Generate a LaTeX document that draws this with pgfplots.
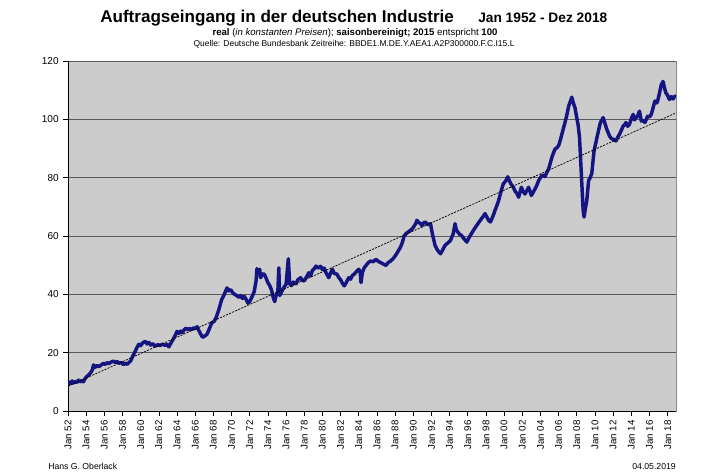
\documentclass[border=0pt]{standalone}
\usepackage{pgfplots}
\pgfplotsset{compat=1.18}
\usepackage{fontspec}
\setmainfont{Liberation Sans}
\definecolor{navyline}{RGB}{20,20,130}
\definecolor{plotbg}{RGB}{204,204,204}
\definecolor{gridc}{RGB}{90,90,90}
\begin{document}
\begin{tikzpicture}[x=0.75pt,y=0.75pt]
\useasboundingbox (0,0) rectangle (720,471);
\begin{axis}[
  at={(51pt,45pt)}, anchor=south west,
  width=456pt, height=262.5pt, scale only axis,
  xmin=1952, xmax=2018.92, ymin=0, ymax=120,
  axis x line*=bottom, axis y line*=left, axis line style={-,black,line width=0.6pt},
  axis background/.style={fill=plotbg, draw=gray!90, line width=0.6pt},
  ytick={0,20,...,120},
  xtick={1952,1954,...,2018},
  xticklabels={Jan 52,Jan 54,Jan 56,Jan 58,Jan 60,Jan 62,Jan 64,Jan 66,Jan 68,Jan 70,Jan 72,Jan 74,Jan 76,Jan 78,Jan 80,Jan 82,Jan 84,Jan 86,Jan 88,Jan 90,Jan 92,Jan 94,Jan 96,Jan 98,Jan 00,Jan 02,Jan 04,Jan 06,Jan 08,Jan 10,Jan 12,Jan 14,Jan 16,Jan 18},
  x tick label style={rotate=90, anchor=east, font=\fontsize{7.3}{8}\selectfont},
  y tick label style={font=\fontsize{7.5}{8}\selectfont},
  /pgf/number format/assume math mode=true,
  tick align=outside, major tick length=3.5pt,
  tick style={black, line width=0.5pt},
  ymajorgrids, grid style={gridc, line width=0.5pt},
  clip=true,
]
\addplot[navyline, line width=2.6pt, line join=round] coordinates {
(1952.0,9.0) (1952.15,9.9) (1952.3,9.4) (1952.45,10.3) (1952.6,9.6) (1952.8,10.1) (1953.0,9.8) (1953.15,10.6)
(1953.3,10.0) (1953.5,10.4) (1953.7,10.0) (1953.85,11.0) (1954.1,11.9) (1954.3,12.4) (1954.5,13.2) (1954.7,14.2)
(1954.8,15.8) (1955.0,15.0) (1955.2,15.6) (1955.4,15.2) (1955.7,15.9) (1955.9,16.3) (1956.1,16.0) (1956.3,16.6)
(1956.5,16.2) (1956.7,16.7) (1957.0,17.1) (1957.2,16.6) (1957.4,17.0) (1957.6,16.4) (1957.9,16.6) (1958.1,15.9)
(1958.3,16.4) (1958.5,16.0) (1958.7,16.6) (1958.9,17.2) (1959.1,18.6) (1959.4,20.5) (1959.6,21.8) (1959.8,22.9)
(1960.0,22.4) (1960.2,23.3) (1960.5,23.9) (1960.7,23.0) (1960.9,23.5) (1961.1,22.6) (1961.3,23.1) (1961.6,22.2)
(1961.9,22.8) (1962.1,22.4) (1962.4,22.9) (1962.7,22.5) (1962.9,22.9) (1963.1,22.0) (1963.3,23.1) (1963.5,24.2)
(1963.8,25.9) (1964.0,27.3) (1964.2,26.6) (1964.4,27.4) (1964.6,26.9) (1964.8,27.9) (1965.0,28.4) (1965.2,27.8)
(1965.4,28.3) (1965.6,27.9) (1965.8,28.5) (1966.0,28.2) (1966.2,28.9) (1966.4,27.6) (1966.6,26.4) (1966.8,25.3)
(1967.0,25.6) (1967.3,26.3) (1967.6,28.5) (1967.8,30.1) (1968.1,30.8) (1968.3,32.0) (1968.6,34.7) (1968.9,38.1)
(1969.2,40.0) (1969.5,42.2) (1969.7,41.2) (1969.9,41.6) (1970.2,40.3) (1970.5,39.7) (1970.8,39.0) (1971.0,39.6)
(1971.2,38.6) (1971.4,39.3) (1971.6,38.3) (1971.8,37.0) (1972.0,37.5) (1972.3,39.5) (1972.5,41.0) (1972.7,44.6)
(1972.8,48.8) (1972.95,47.5) (1973.1,48.6) (1973.2,45.7) (1973.4,47.0) (1973.6,46.9) (1973.8,45.6) (1974.0,44.0)
(1974.2,43.0) (1974.4,41.5) (1974.6,38.8) (1974.75,37.5) (1974.9,39.5) (1975.1,41.1) (1975.2,49.1) (1975.3,39.6)
(1975.5,40.8) (1975.8,42.6) (1976.0,43.4) (1976.25,52.2) (1976.4,43.6) (1976.6,43.0) (1976.8,44.2) (1977.1,43.6)
(1977.3,45.0) (1977.6,45.7) (1977.8,44.8) (1978.0,44.6) (1978.3,46.2) (1978.5,47.4) (1978.7,46.3) (1978.9,48.2)
(1979.1,48.8) (1979.3,49.7) (1979.5,49.0) (1979.8,49.6) (1980.0,48.5) (1980.2,49.0) (1980.4,47.4) (1980.7,45.7)
(1980.9,47.3) (1981.1,48.6) (1981.3,47.2) (1981.6,46.9) (1981.8,45.8) (1982.0,45.0) (1982.2,43.8) (1982.4,42.9)
(1982.6,43.9) (1982.9,45.7) (1983.1,45.2) (1983.3,46.5) (1983.5,46.9) (1983.8,48.0) (1984.0,48.6) (1984.15,47.8)
(1984.25,44.0) (1984.4,47.5) (1984.6,49.1) (1984.9,50.3) (1985.1,51.0) (1985.3,51.4) (1985.6,51.2) (1985.9,52.0)
(1986.1,51.4) (1986.4,50.9) (1986.7,50.4) (1987.0,49.9) (1987.2,50.8) (1987.5,51.4) (1987.8,52.3) (1988.0,53.1)
(1988.3,54.6) (1988.6,56.2) (1988.8,57.8) (1989.0,60.0) (1989.2,60.8) (1989.5,61.5) (1989.7,62.0) (1989.9,62.5)
(1990.1,63.4) (1990.3,64.4) (1990.4,65.4) (1990.6,64.6) (1990.8,64.3) (1990.96,63.5) (1991.1,64.4) (1991.3,64.8)
(1991.6,63.9) (1991.9,64.2) (1992.1,60.8) (1992.4,56.8) (1992.6,55.5) (1992.8,54.6) (1993.0,53.9) (1993.2,55.0)
(1993.5,56.8) (1993.8,57.6) (1994.1,58.5) (1994.4,60.8) (1994.6,64.2) (1994.75,62.0) (1994.9,61.4) (1995.1,60.6)
(1995.3,60.2) (1995.6,59.0) (1995.9,57.9) (1996.1,59.2) (1996.4,60.8) (1996.7,62.3) (1997.0,63.7) (1997.2,64.6)
(1997.5,65.9) (1997.7,66.7) (1997.9,67.7) (1998.1,66.5) (1998.3,65.3) (1998.5,64.8) (1998.8,67.0) (1999.0,68.8)
(1999.2,70.4) (1999.4,72.2) (1999.7,75.7) (1999.9,77.8) (2000.2,79.0) (2000.4,80.3) (2000.6,78.8) (2000.8,77.6)
(2001.0,76.8) (2001.2,75.4) (2001.4,74.6) (2001.6,73.3) (2001.8,75.6) (2001.9,76.7) (2002.1,75.2) (2002.3,74.4)
(2002.5,75.6) (2002.7,76.7) (2002.9,74.8) (2003.0,73.9) (2003.2,75.0) (2003.4,76.1) (2003.6,77.4) (2003.8,79.0)
(2004.0,80.0) (2004.2,80.9) (2004.5,80.4) (2004.7,81.8) (2004.9,83.0) (2005.1,85.2) (2005.3,87.4) (2005.6,89.8)
(2005.8,90.2) (2006.0,91.0) (2006.2,93.0) (2006.4,95.4) (2006.7,98.9) (2006.9,101.4) (2007.1,104.5) (2007.3,106.2)
(2007.45,107.6) (2007.6,105.8) (2007.8,104.0) (2008.0,100.5) (2008.15,98.0) (2008.3,93.8) (2008.5,81.3) (2008.7,68.8)
(2008.8,66.5) (2008.95,69.5) (2009.1,72.2) (2009.3,79.0) (2009.5,80.2) (2009.65,81.5) (2009.9,89.2) (2010.1,92.0)
(2010.3,94.9) (2010.6,98.9) (2010.9,100.6) (2011.1,98.6) (2011.3,96.6) (2011.6,94.3) (2011.8,93.4) (2012.0,93.2)
(2012.3,92.6) (2012.5,93.8) (2012.7,94.9) (2012.9,96.2) (2013.1,97.7) (2013.3,98.3) (2013.4,98.9) (2013.6,97.6)
(2013.8,98.3) (2014.0,100.2) (2014.2,101.7) (2014.35,99.8) (2014.5,100.5) (2014.7,101.2) (2014.9,102.8) (2015.1,99.4)
(2015.3,99.6) (2015.5,98.9) (2015.8,101.1) (2016.0,100.8) (2016.2,101.7) (2016.4,104.0) (2016.6,106.3) (2016.8,105.6)
(2016.9,106.3) (2017.1,109.0) (2017.3,111.9) (2017.5,113.0) (2017.65,110.8) (2017.8,109.1) (2018.0,108.2) (2018.2,106.8)
(2018.4,107.8) (2018.6,107.0) (2018.8,108.0) (2018.92,107.8)
};
\addplot[black, dash pattern=on 1.6pt off 0.9pt, line width=0.55pt] coordinates {(1952,8.5) (2018.92,102.2)};
\end{axis}
\node[anchor=base west, inner sep=0pt, font=\fontsize{12.8}{14}\selectfont\bfseries] at (100,448) {Auftragseingang in der deutschen Industrie};
\node[anchor=base west, inner sep=0pt, font=\fontsize{10.3}{12}\selectfont\bfseries] at (478,448) {Jan 1952 - Dez 2018};
\node[anchor=base, inner sep=0pt, font=\fontsize{7.2}{8}\selectfont] at (355,435) {\textbf{real} (\textit{in konstanten Preisen}); \textbf{saisonbereinigt; 2015} entspricht \textbf{100}};
\node[anchor=base, inner sep=0pt, font=\fontsize{6.35}{7}\selectfont] at (354,424) {Quelle: Deutsche Bundesbank Zeitreihe: BBDE1.M.DE.Y.AEA1.A2P300000.F.C.I15.L};
\node[anchor=north west, inner sep=0pt, font=\fontsize{6.5}{7}\selectfont] at (48,8) {Hans G. Oberlack};
\node[anchor=north east, inner sep=0pt, font=\fontsize{6.5}{7}\selectfont] at (676,8) {04.05.2019};
\end{tikzpicture}
\end{document}
